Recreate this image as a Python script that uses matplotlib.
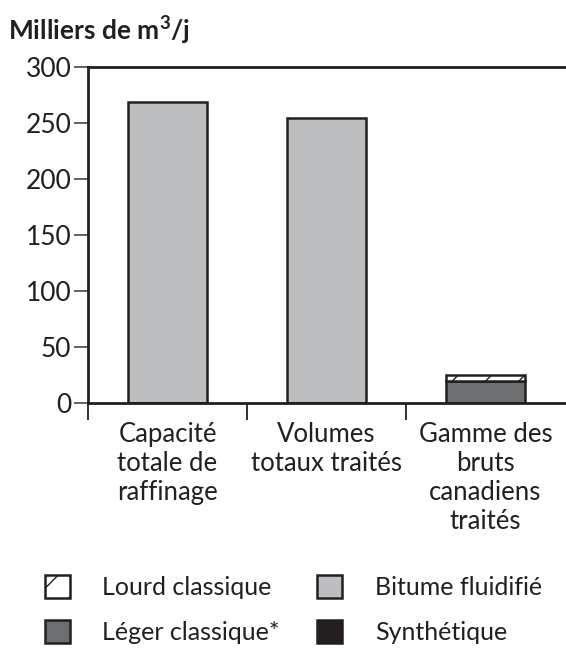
import matplotlib
matplotlib.use("Agg")
from matplotlib import pyplot as plt
from matplotlib.patches import Patch

plt.rcParams['font.family'] = ['Lato', 'DejaVu Sans']
plt.rcParams['mathtext.fontset'] = 'custom'
plt.rcParams['mathtext.bf'] = 'Lato:bold'
plt.rcParams['mathtext.rm'] = 'Lato'
plt.rcParams['hatch.linewidth'] = 1.0
plt.rcParams['hatch.color'] = '#231f20'

categories = ["Capacité\ntotale de\nraffinage", "Volumes\ntotaux traités",
              "Gamme des\nbruts\ncanadiens\ntraités"]
bitume = [269, 255, 0]
leger = [0, 0, 20]
lourd = [0, 0, 5]
synthetique = [0, 0, 0]
yticks = [0, 50, 100, 150, 200, 250, 300]

EDGE = '#231f20'
fig = plt.figure(figsize=(5.66, 6.52), dpi=100)
ax = fig.add_axes([0.1555, 0.382, 0.8445, 0.515])

x = range(len(categories))
lw = 1.8
ax.bar(x, bitume, width=0.5, color='#bdbec0', edgecolor=EDGE, linewidth=lw)
ax.bar(x, leger, width=0.5, color='#6d6e70', edgecolor=EDGE, linewidth=lw)
ax.bar(x, lourd, width=0.5, bottom=leger, color='white', edgecolor=EDGE,
       linewidth=lw, hatch='/')

ax.set_xlim(-0.5, 2.506)
ax.set_ylim(0, 300)
ax.set_yticks(yticks)
ax.tick_params(axis='y', length=10, width=1.3, color='#555555', pad=2,
               labelsize=19, labelcolor=EDGE)
ax.set_xticks(list(x))
ax.set_xticklabels(categories, fontsize=18.5, color=EDGE, linespacing=1.2)
ax.set_xticks([-0.5, 0.5, 1.5], minor=True)
ax.tick_params(axis='x', which='major', length=0, pad=14)
ax.tick_params(axis='x', which='minor', length=12, width=1.3, color=EDGE)
ax.spines['right'].set_visible(False)
for s in ['left', 'top', 'bottom']:
    ax.spines[s].set_linewidth(2)
    ax.spines[s].set_color(EDGE)

fig.text(0.014, 0.953, r"Milliers de m$^{\mathbf{3}}$/j", fontsize=19, fontweight='bold',
         color=EDGE, va='center', ha='left')

handles = [
    Patch(facecolor='white', edgecolor=EDGE, hatch='/', linewidth=lw, label='Lourd classique'),
    Patch(facecolor='#6d6e70', edgecolor=EDGE, linewidth=lw, label='Léger classique*'),
    Patch(facecolor='#bdbec0', edgecolor=EDGE, linewidth=lw, label='Bitume fluidifié'),
    Patch(facecolor=EDGE, edgecolor=EDGE, linewidth=lw, label='Synthétique'),
]
fig.legend(handles=handles, ncol=2, loc='lower left', bbox_to_anchor=(0.0795, 0.012),
           borderaxespad=0, borderpad=0,
           frameon=False, fontsize=18, handlelength=1.0, handleheight=1.0,
           handletextpad=1.3, columnspacing=1.5, labelspacing=0.85, labelcolor=EDGE)

fig.savefig("out.png", dpi=100)
